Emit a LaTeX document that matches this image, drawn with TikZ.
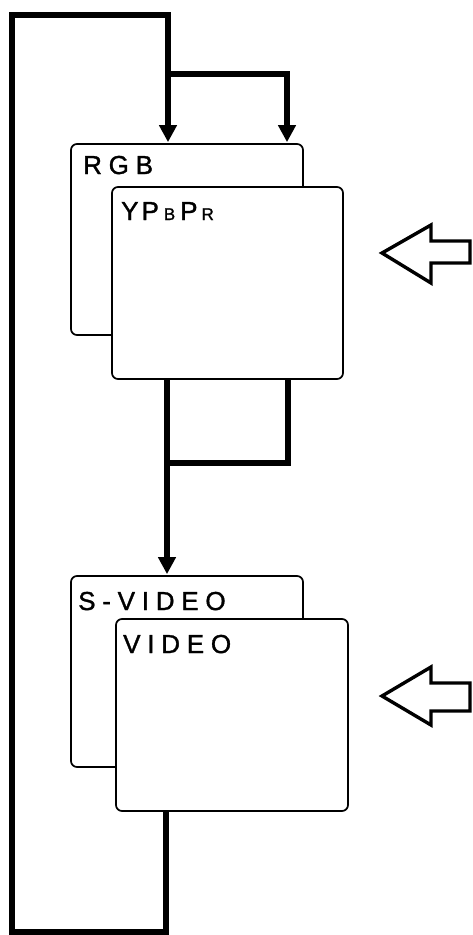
\documentclass[tikz,border=0pt]{standalone}
\usepackage{fontspec}
\setmainfont{Liberation Sans}[FakeBold=1.3]
\newfontfamily\spacedfont{Liberation Sans}[LetterSpace=26,FakeBold=1.3]
\usetikzlibrary{arrows.meta}
\begin{document}
\begin{tikzpicture}[x=1pt,y=-1pt,
  panel/.style={draw=black,line width=1.7pt,rounded corners=6pt,fill=white,inner sep=0pt},
  txt/.style={anchor=base west,inner sep=0pt,font=\spacedfont\fontsize{26}{26}\selectfont},
  wire/.style={line width=6pt,line join=miter},
  arr/.style={wire,-{Triangle[width=17pt,length=17pt]}},
  blockarrow/.style={draw=black,line width=3.4pt,line join=miter,fill=white}]
\useasboundingbox (0,0) rectangle (473,935);

% upper pair
\node[panel,minimum width=232pt,minimum height=191pt] (rgb) at (187,239.5) {};
\node[txt] (rgbt) at (83,174) {RGB};
\node[panel,minimum width=231pt,minimum height=192pt] (ypb) at (227.5,283) {};
\node[txt,font=\rmfamily\fontsize{26}{26}\selectfont] (ypbt) at (121,220)
  {Y\kern3pt P\kern5pt{\fontsize{17}{17}\selectfont B}\kern5pt P\kern4pt{\fontsize{17}{17}\selectfont R}};

% lower pair
\node[panel,minimum width=232pt,minimum height=191pt] (sv) at (187,671.5) {};
\node[txt] (svt) at (78,610) {S-VIDEO};
\node[panel,minimum width=232pt,minimum height=192pt] (vid) at (232,715) {};
\node[txt] (vidt) at (123,653) {VIDEO};

% loop coordinates
\coordinate (b1) at (165.5,931.5);
\coordinate (b2) at (11.5,931.5);
\coordinate (t1) at (11.5,15);
\coordinate (t2) at (168,15);
\coordinate (br) at (168,74);
\coordinate (br2) at (287,74);
\coordinate (m1) at (167,463);
\coordinate (m2) at (288,463);

% loop from VIDEO back to top
\draw[arr] (vid.south -| b1) -- (b1) -- (b2) -- (t1) -- (t2) -- ([yshift=1pt]t2 |- rgb.north);
\draw[arr] (br) -- (br2) -- ([yshift=1pt]br2 |- rgb.north);

% from YPbPr down to S-VIDEO
\draw[wire] (m2 |- ypb.south) -- (m2) -- (m1);
\draw[arr] (m1 |- ypb.south) -- ([yshift=1pt]m1 |- sv.north);

% block arrows
\draw[blockarrow] (382,253) -- (431,225) -- (431,241) -- (470,241) -- (470,263) -- (431,263) -- (431,283) -- cycle;
\draw[blockarrow] (382,696) -- (431,667) -- (431,683) -- (470,683) -- (470,711) -- (431,711) -- (431,725) -- cycle;
\end{tikzpicture}
\end{document}
